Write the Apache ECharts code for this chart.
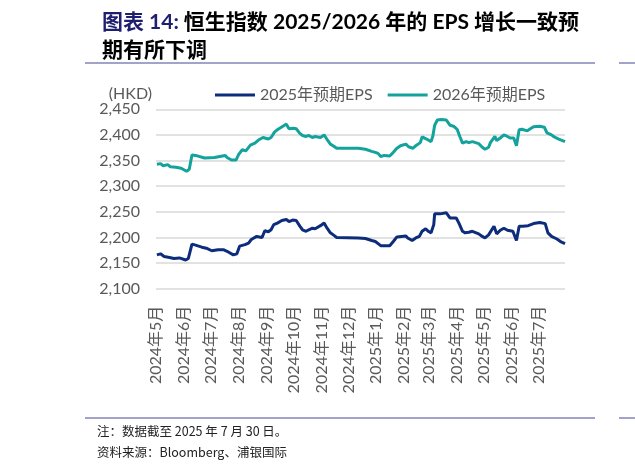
<!DOCTYPE html>
<html><head><meta charset="utf-8">
<script src="https://cdn.jsdelivr.net/npm/echarts@6/dist/echarts.min.js"></script>
<style>html,body{margin:0;padding:0;background:#fff}#c{width:635px;height:471px}</style>
</head><body><div id="c"></div>
<script>
const dates2026 = ['2024-05-02','2024-05-06','2024-05-09','2024-05-14','2024-05-17','2024-05-23','2024-05-29','2024-06-04','2024-06-07','2024-06-10','2024-06-14','2024-06-24','2024-07-05','2024-07-11','2024-07-17','2024-07-19','2024-07-24','2024-07-29','2024-08-01','2024-08-05','2024-08-09','2024-08-14','2024-08-19','2024-08-23','2024-08-28','2024-09-03','2024-09-06','2024-09-10','2024-09-13','2024-09-20','2024-09-23','2024-09-26','2024-10-01','2024-10-04','2024-10-08','2024-10-11','2024-10-15','2024-10-18','2024-10-22','2024-10-25','2024-10-31','2024-11-04','2024-11-07','2024-11-11','2024-11-14','2024-11-18','2024-12-12','2024-12-20','2024-12-27','2024-12-31','2025-01-03','2025-01-06','2025-01-10','2025-01-16','2025-01-20','2025-01-24','2025-01-28','2025-02-03','2025-02-06','2025-02-11','2025-02-14','2025-02-19','2025-02-21','2025-02-26','2025-03-03','2025-03-05','2025-03-07','2025-03-10','2025-03-14','2025-03-20','2025-03-24','2025-03-28','2025-04-01','2025-04-04','2025-04-07','2025-04-11','2025-04-14','2025-04-18','2025-04-25','2025-04-29','2025-05-02','2025-05-06','2025-05-08','2025-05-13','2025-05-15','2025-05-19','2025-05-23','2025-05-27','2025-05-30','2025-06-03','2025-06-06','2025-06-09','2025-06-12','2025-06-18','2025-06-20','2025-06-25','2025-07-02','2025-07-07','2025-07-10','2025-07-15','2025-07-18','2025-07-23','2025-07-30'];
const eps2026 = [2343,2344,2340,2342,2338,2337,2335,2329,2333,2361,2360,2355,2356,2358,2360,2356,2351,2351,2362,2371,2369,2380,2384,2390,2395,2392,2395,2406,2410,2418,2421,2412,2413,2412,2403,2399,2397,2399,2395,2397,2395,2400,2392,2382,2379,2374,2374,2372,2368,2366,2364,2358,2360,2359,2366,2374,2379,2382,2377,2374,2379,2385,2396,2392,2387,2398,2419,2429,2430,2429,2419,2417,2411,2397,2384,2387,2385,2387,2383,2376,2372,2376,2385,2397,2389,2394,2400,2397,2394,2394,2379,2410,2411,2408,2410,2416,2417,2415,2404,2400,2396,2392,2387];

const dates2025 = ['2024-05-02','2024-05-06','2024-05-10','2024-05-16','2024-05-21','2024-05-27','2024-06-03','2024-06-06','2024-06-10','2024-06-14','2024-06-21','2024-06-26','2024-07-02','2024-07-09','2024-07-15','2024-07-19','2024-07-26','2024-07-30','2024-08-02','2024-08-08','2024-08-12','2024-08-15','2024-08-21','2024-08-23','2024-08-27','2024-08-30','2024-09-03','2024-09-06','2024-09-09','2024-09-13','2024-09-18','2024-09-23','2024-09-26','2024-09-30','2024-10-04','2024-10-08','2024-10-11','2024-10-15','2024-10-18','2024-10-22','2024-10-25','2024-10-31','2024-11-04','2024-11-07','2024-11-11','2024-11-15','2024-11-18','2024-12-12','2024-12-20','2024-12-27','2024-12-31','2025-01-06','2025-01-10','2025-01-16','2025-01-20','2025-01-24','2025-02-03','2025-02-05','2025-02-10','2025-02-14','2025-02-18','2025-02-21','2025-02-25','2025-02-28','2025-03-03','2025-03-06','2025-03-07','2025-03-13','2025-03-20','2025-03-24','2025-03-26','2025-03-31','2025-04-03','2025-04-07','2025-04-10','2025-04-14','2025-04-18','2025-04-25','2025-04-29','2025-05-02','2025-05-06','2025-05-12','2025-05-15','2025-05-19','2025-05-23','2025-05-27','2025-06-02','2025-06-04','2025-06-06','2025-06-09','2025-06-13','2025-06-19','2025-06-25','2025-07-02','2025-07-08','2025-07-11','2025-07-15','2025-07-21','2025-07-25','2025-07-30'];
const eps2025 = [2166,2168,2163,2161,2159,2160,2156,2159,2187,2185,2181,2179,2174,2176,2176,2173,2166,2168,2183,2186,2189,2196,2202,2200,2200,2213,2211,2215,2225,2228,2233,2235,2231,2234,2233,2222,2215,2212,2215,2218,2217,2223,2228,2219,2209,2204,2200,2199,2198,2194,2192,2184,2184,2184,2192,2201,2203,2199,2194,2199,2202,2212,2217,2212,2209,2225,2246,2246,2248,2238,2235,2238,2228,2212,2209,2210,2212,2207,2202,2199,2205,2222,2207,2214,2218,2214,2212,2214,2194,2222,2222,2223,2227,2229,2227,2209,2202,2197,2192,2188];

const seriesNames = ['2025年预期EPS','2026年预期EPS'];
const yTicks = [2100,2450,50];
const xRange = ['2024-05-01','2025-07-30'];
const titleLead = '图表 14:';
const titleLine1 = '恒生指数 2025/2026 年的 EPS 增长一致预';
const titleLine2 = '期有所下调';
const unitLabel = '(HKD)';
const noteText = '注：数据截至 2025 年 7 月 30 日。';
const sourceText = '资料来源：Bloomberg、浦银国际';

const FONT = 'Lato, "Noto Sans CJK SC", sans-serif';
const chart = echarts.init(document.getElementById('c'));
const zip = (d, v) => d.map((x, i) => [x, v[i]]);
chart.setOption({
  animation: false,
  title: {
    left: 97, top: 3, padding: 5,
    text: '{a|' + titleLead + '} {b|' + titleLine1 + '}\n{b|' + titleLine2 + '}',
    textStyle: {
      rich: {
        a: {color: '#1f1f70', fontSize: 21, fontWeight: 'bold', fontFamily: FONT, lineHeight: 28},
        b: {color: '#000', fontSize: 21, fontWeight: 'bold', fontFamily: FONT, lineHeight: 28}
      }
    }
  },
  legend: {
    left: 210, top: 82, itemWidth: 40, itemHeight: 3, itemGap: 15,
    icon: 'rect',
    textStyle: {color: '#595959', fontSize: 16, fontFamily: FONT},
    data: seriesNames
  },
  grid: {left: 156, right: 70, top: 109.3, bottom: 182.3, containLabel: false},
  xAxis: {
    type: 'time',
    min: xRange[0], max: xRange[1],
    splitNumber: 15,
    minInterval: 28 * 86400000,
    maxInterval: 31 * 86400000,
    axisLine: {show: false}, axisTick: {show: false}, splitLine: {show: false},
    axisLabel: {
      rotate: 90, margin: 17, color: '#595959', fontSize: 16, fontFamily: FONT,
      hideOverlap: false, showMaxLabel: false,
      formatter: '{yyyy}年{M}月'
    }
  },
  yAxis: {
    type: 'value', min: yTicks[0], max: yTicks[1], interval: yTicks[2],
    name: unitLabel, nameLocation: 'end', nameGap: 2,
    nameTextStyle: {color: '#595959', fontSize: 16, fontFamily: FONT, align: 'right', padding: [0, 4, 0, 0]},
    axisLine: {show: false}, axisTick: {show: false},
    splitLine: {lineStyle: {color: '#d9d9d9', width: 1.5}},
    axisLabel: {color: '#595959', fontSize: 16, fontFamily: FONT, margin: 16,
      formatter: v => v.toLocaleString('en-US')}
  },
  series: [
    {name: seriesNames[0], type: 'line', data: zip(dates2025, eps2025), showSymbol: false,
      lineStyle: {color: '#0d2c7b', width: 3}, itemStyle: {color: '#0d2c7b'}},
    {name: seriesNames[1], type: 'line', data: zip(dates2026, eps2026), showSymbol: false,
      lineStyle: {color: '#14a29d', width: 3}, itemStyle: {color: '#14a29d'}}
  ],
  graphic: [
    {type: 'line', shape: {x1: 85, y1: 63, x2: 595, y2: 63}, style: {stroke: '#8585b8', lineWidth: 1.5}},
    {type: 'line', shape: {x1: 619, y1: 63, x2: 635, y2: 63}, style: {stroke: '#8585b8', lineWidth: 1.5}},
    {type: 'line', shape: {x1: 85, y1: 418, x2: 595, y2: 418}, style: {stroke: '#8585b8', lineWidth: 1.5}},
    {type: 'line', shape: {x1: 619, y1: 418, x2: 635, y2: 418}, style: {stroke: '#8585b8', lineWidth: 1.5}},
    {type: 'text', left: 97, top: 425, style: {text: noteText, fill: '#222', font: '12.5px "Noto Sans CJK SC", sans-serif'}},
    {type: 'text', left: 97, top: 446, style: {text: sourceText, fill: '#222', font: '12.5px "Noto Sans CJK SC", sans-serif'}}
  ]
});
</script></body></html>
